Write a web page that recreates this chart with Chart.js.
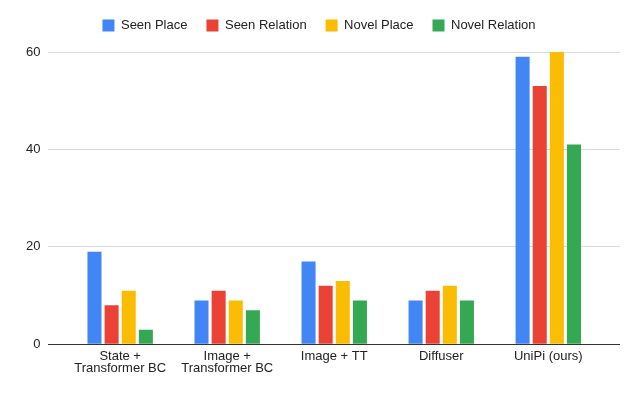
<!DOCTYPE html>
<html lang="en">
<head>
  <meta charset="UTF-8">
  <title>Success rates</title>
  <script src="https://cdn.jsdelivr.net/npm/chart.js"></script>
  <style>
    html, body {
      margin: 0;
      padding: 0;
      background: #fff;
    }
    .chart-container {
      position: relative;
      width: 640px;
      height: 396px;
    }
  </style>
</head>
<body>
  <div class="chart-container">
    <canvas id="barChart"></canvas>
  </div>

  <script>
    // categories (multi-line labels) and series
    const categories = [
      ['State +', 'Transformer BC'],
      ['Image +', 'Transformer BC'],
      ['Image + TT'],
      ['Diffuser'],
      ['UniPi (ours)']
    ];
    const seriesNames = ['Seen Place', 'Seen Relation', 'Novel Place', 'Novel Relation'];
    const seenPlace = [19, 9, 17, 9, 59];
    const seenRelation = [8, 11, 12, 11, 53];
    const novelPlace = [11, 9, 13, 12, 60];
    const novelRelation = [3, 7, 9, 9, 41];
    const yTicks = [0, 20, 40, 60];

    const colors = ['#4285F4', '#EA4335', '#FBBC04', '#34A853'];
    const fontFamily = '"Liberation Sans", Arial, sans-serif';

    function toPoints(values) {
      return values.map((v, i) => ({ x: i, y: v }));
    }

    // a bit of extra room under the legend
    const legendMargin = {
      id: 'legendMargin',
      beforeInit(chart) {
        const fit = chart.legend.fit;
        chart.legend.fit = function () {
          fit.call(this);
          this.height += 10;
        };
      }
    };

    const ctx = document.getElementById('barChart').getContext('2d');
    new Chart(ctx, {
      type: 'bar',
      data: {
        datasets: [seenPlace, seenRelation, novelPlace, novelRelation].map((values, i) => ({
          label: seriesNames[i],
          data: toPoints(values),
          backgroundColor: colors[i],
          borderWidth: 0,
          categoryPercentage: 0.64,
          barPercentage: 0.82
        }))
      },
      options: {
        responsive: true,
        maintainAspectRatio: false,
        animation: false,
        layout: { padding: { left: 18, right: 20, top: 0, bottom: 15 } },
        plugins: {
          legend: {
            position: 'top',
            labels: {
              boxWidth: 12,
              boxHeight: 12,
              padding: 19,
              color: '#222',
              font: { family: fontFamily, size: 13 }
            }
          },
          tooltip: { enabled: false }
        },
        scales: {
          x: {
            type: 'linear',
            offset: false,
            min: -0.67,
            max: 4.67,
            grid: { display: false, drawTicks: false },
            border: { display: false },
            ticks: {
              stepSize: 1,
              includeBounds: false,
              autoSkip: false,
              maxRotation: 0,
              padding: 6,
              color: '#222',
              font: { family: fontFamily, size: 13, lineHeight: 0.95 },
              callback: (value) => Number.isInteger(value) && categories[value] ? categories[value] : ''
            }
          },
          y: {
            min: 0,
            max: 60,
            afterBuildTicks: (scale) => { scale.ticks = yTicks.map(v => ({ value: v })); },
            grid: {
              drawTicks: false,
              color: (c) => c.tick && c.tick.value === 0 ? '#333' : '#d9d9d9',
              lineWidth: 1
            },
            border: { display: false },
            ticks: {
              padding: 8,
              color: '#222',
              font: { family: fontFamily, size: 13 }
            }
          }
        }
      },
      plugins: [legendMargin]
    });
  </script>
</body>
</html>
